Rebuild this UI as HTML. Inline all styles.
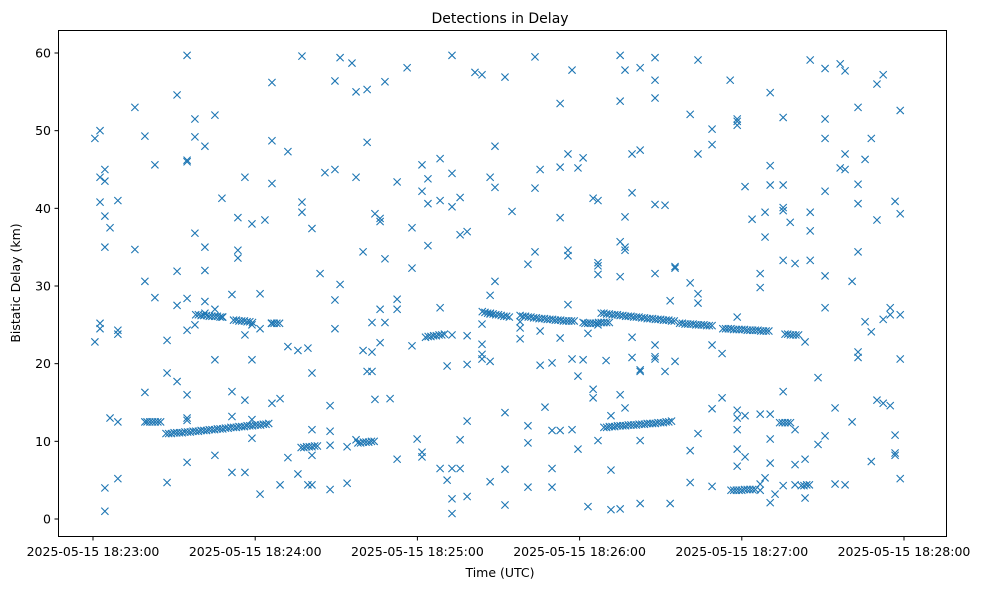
<!DOCTYPE html>
<html><head><meta charset="utf-8"><style>
body{margin:0;background:#fff}
svg{display:block;font-family:"DejaVu Sans","Liberation Sans",sans-serif}
</style></head><body>
<svg id="chart" width="984" height="590" viewBox="0 0 984 590" xmlns="http://www.w3.org/2000/svg">
<rect width="984" height="590" fill="#fff"/>
<text x="500" y="23" font-size="14" text-anchor="middle">Detections in Delay</text>
<text x="500" y="577" font-size="12.5" text-anchor="middle">Time (UTC)</text>
<text x="20" y="283" font-size="12.5" text-anchor="middle" transform="rotate(-90 20 283)">Bistatic Delay (km)</text>
<g id="marks"></g>
<g id="axes"></g>
<rect x="58.5" y="30.5" width="888" height="506" fill="none" stroke="#000" stroke-width="1"/>
</svg>
<script>
const yTicks=[0,10,20,30,40,50,60];
const xTickSeconds=[0,60,120,180,240,300];
const xTickLabels=["2025-05-15 18:23:00","2025-05-15 18:24:00","2025-05-15 18:25:00","2025-05-15 18:26:00","2025-05-15 18:27:00","2025-05-15 18:28:00"];
// scattered detections: seconds after 18:23:00, delay km
const scatterTimes=[
0.7,0.7,2.6,2.6,2.6,2.6,2.6,4.4,4.4,4.4,4.4,4.4,4.4,6.3,6.3,9.2,9.2,9.2,9.2,9.2,15.5,15.5,19.2,19.2,19.2,19.2,22.9,22.9,
27.4,27.4,27.4,31.1,31.1,31.1,31.1,34.8,34.8,34.8,34.8,34.8,34.8,34.8,34.8,34.8,37.7,37.7,37.7,37.7,41.4,41.4,41.4,41.4,41.4,
45.1,45.1,45.1,45.1,47.7,47.7,51.4,51.4,51.4,51.4,53.6,53.6,53.6,56.2,56.2,56.2,56.2,58.8,58.8,58.8,58.8,58.8,61.8,61.8,61.8,63.6,
66.2,66.2,66.2,66.2,66.2,69.2,69.2,72.1,72.1,72.1,75.8,75.8,77.3,77.3,77.3,79.5,79.5,81,81,81,81,81,84,85.8,87.7,87.7,87.7,87.7,
89.5,89.5,89.5,89.5,91.4,91.4,94,94,95.8,97.3,97.3,97.3,99.9,99.9,101.4,101.4,101.4,103.2,103.2,103.2,104.3,104.3,106.2,106.2,106.2,106.2,
108,108,108,109.9,112.5,112.5,112.5,112.5,116.2,118,118,118,119.9,121.7,121.7,121.7,121.7,123.9,123.9,123.9,128.4,128.4,128.4,128.4,
131,131,132.8,132.8,132.8,132.8,132.8,132.8,132.8,135.8,135.8,135.8,135.8,138.4,138.4,138.4,138.4,138.4,141.3,143.9,143.9,143.9,143.9,143.9,
146.9,146.9,146.9,146.9,146.9,148.7,148.7,148.7,152.4,152.4,152.4,152.4,155,158,158,158,160.9,160.9,160.9,160.9,163.5,163.5,163.5,
165.4,165.4,165.4,167.2,169.8,169.8,169.8,169.8,172.8,172.8,172.8,172.8,172.8,175.7,175.7,175.7,175.7,177.2,177.2,177.2,179.4,179.4,179.4,
181.3,181.3,181.3,183.1,183.1,185,185,185,186.8,186.8,186.8,186.8,186.8,186.8,189.8,191.6,191.6,191.6,195,195,195,195,195,195,
196.8,196.8,196.8,196.8,196.8,199.4,199.4,199.4,199.4,202.4,202.4,202.4,202.4,202.4,202.4,207.9,207.9,207.9,207.9,207.9,207.9,207.9,207.9,
211.6,211.6,213.5,213.5,215.3,215.3,215.3,220.9,220.9,220.9,220.9,223.8,223.8,223.8,223.8,223.8,229,229,229,229,229,232.7,232.7,235.7,
238.3,238.3,238.3,238.3,238.3,238.3,238.3,238.3,238.3,241.2,241.2,241.2,243.8,246.8,246.8,246.8,246.8,246.8,248.6,248.6,248.6,
250.5,250.5,250.5,250.5,250.5,250.5,250.5,252.3,255.3,255.3,255.3,255.3,255.3,255.3,255.3,257.9,259.7,259.7,259.7,259.7,263.4,263.4,263.4,
265.3,265.3,265.3,265.3,268.2,268.2,270.8,270.8,270.8,270.8,270.8,270.8,270.8,274.5,274.5,276.4,276.4,278.2,278.2,278.2,278.2,280.8,280.8,
283,283,283,283,283,283,285.6,285.6,287.9,287.9,287.9,290,290,290,292.3,292.3,292.3,294.9,294.9,294.9,296.7,296.7,296.7,296.7,
298.6,298.6,298.6,298.6,298.6];
const scatterDelays=[
49,22.8,25.2,24.5,50,44,40.8,35,4,1,45,43.5,39,37.5,13,41,24.3,23.8,12.5,5.2,53,34.7,49.3,30.6,16.3,12.5,45.6,28.5,
23,18.8,4.7,17.7,54.6,31.9,27.5,16,13,12.7,7.3,28.4,46,46.2,59.7,24.3,36.8,49.2,25,51.5,35,48,32,28,26.5,
20.5,8.2,52,27,41.3,26,28.9,16.4,13.2,6,38.8,34.6,33.6,44,23.7,6,15.3,38,25,20.5,12.8,10.4,29,24.5,3.2,38.5,
56.2,43.2,48.7,25.2,14.9,15.5,4.4,22.2,7.9,47.3,21.7,5.8,40.8,39.5,59.6,22,4.4,37.4,18.8,11.5,8.2,4.4,31.6,44.6,11.3,9.5,14.6,3.8,
56.4,45,28.2,24.5,30.2,59.4,9.3,4.6,58.7,55,44,10.2,34.4,21.7,55.3,48.5,19,21.5,25.3,19,39.3,15.4,38.3,38.7,22.7,27,
56.3,33.5,25.3,15.5,7.7,43.4,28.3,27,58.1,37.5,32.3,22.3,10.3,45.6,42.2,8.6,8,40.6,35.2,43.8,6.5,46.4,41,27.2,
5,19.7,40.2,44.5,59.7,23.7,2.6,0.7,6.5,41.4,36.6,10.2,6.5,37,12.6,2.9,19.9,23.6,57.5,57.2,22.5,21.2,20.6,25.1,
44,26.4,28.8,20.3,4.8,48,42.7,30.6,56.9,13.7,6.4,1.8,39.6,24.6,25.4,23.2,32.8,12,9.8,4.1,42.6,34.4,59.5,
45,24.2,19.8,14.4,4.1,11.4,6.5,20.1,53.5,45.3,38.8,23.3,11.4,47,34.6,33.9,27.6,57.8,20.6,11.5,45.2,18.4,9,
46.5,25.3,20.5,23.9,1.6,41.3,15.6,16.7,41,31.5,25,32.6,33,10.1,20.4,6.3,1.2,13.3,35.7,31.2,1.3,59.7,53.8,16,
38.9,34.6,35,14.3,57.8,47,42,23.4,20.8,58.1,47.5,19,19.2,2,10.1,59.4,56.5,54.2,40.5,31.6,22.4,20.9,20.6,
40.4,19,2,28.1,32.5,32.3,20.3,30.4,8.8,4.7,52.1,47,59.1,29,27.8,11,50.2,48.2,22.4,14.2,4.2,21.3,15.6,56.5,
50.7,51.5,51.2,26,14,13,11.5,6.8,9,42.8,13.3,8,38.6,13.5,4.5,31.6,29.8,3.7,39.5,36.3,5.3,
54.9,45.5,43,10.3,7.2,2.1,13.5,3.2,51.7,43,40.1,39.7,33.3,16.4,4.3,38.2,32.9,7,4.4,11.5,2.7,7.7,22.8,
59.1,39.5,37.1,33.3,9.6,18.2,49,51.5,58,42.2,31.3,27.2,10.7,14.3,4.5,58.6,45.2,57.7,47,45,4.4,12.5,30.6,
53,43.1,40.6,34.4,21.5,20.8,25.4,46.3,49,24.1,7.4,56,38.5,15.3,57.2,25.7,14.9,27.2,26.3,14.6,40.9,10.8,8.5,8.2,
39.3,26.3,20.6,5.2,52.6];
// dense tracked detections
const trackTimes=[
20,21,22,23,24,25,27,28,29,30,31,32,33,34,35,36,37,38,39,40,41,42,43,44,45,46,47,48,49,50,51,52,53,54,55,56,57,58,59,60,61,62,63,64,65,
38,39,40,41,42,43,44,45,46,47,48,52,53,54,55,56,57,58,59,66,67,68,69,
77,78,79,80,81,82,83,98,99,100,101,102,103,104,
123,124,125,126,127,128,129,130,
144,145,146,147,148,149,150,151,152,153,154,158,159,160,161,162,163,164,165,166,167,168,169,170,171,172,173,174,175,176,177,178,
182,183,184,185,186,187,188,189,190,191,
188,189,190,191,192,193,194,195,196,197,198,199,200,201,202,203,204,205,206,207,208,209,210,211,212,213,214,215,
217,218,219,220,221,222,223,224,225,226,227,228,229,233,234,235,236,237,238,239,240,241,242,243,244,245,246,247,248,249,250,
256,257,258,259,260,261,
189,190,191,192,193,194,195,196,197,198,199,200,201,202,203,204,205,206,207,208,209,210,211,212,213,214,
236,237,238,239,240,241,242,243,244,245,262,263,264,265,254,255,256,257,258];
const trackDelays=[
12.5,12.5,12.5,12.5,12.5,12.5,11,11,11,11.1,11.1,11.1,11.1,11.2,11.2,11.2,11.3,11.3,11.3,11.4,11.4,11.4,11.5,11.5,11.5,11.6,11.6,11.6,11.7,11.7,11.8,11.8,11.8,11.9,11.9,11.9,12,12,12,12.1,12.1,12.1,12.2,12.2,12.3,
26.3,26.3,26.2,26.2,26.2,26.1,26.1,26.1,26.1,26,26,25.6,25.6,25.5,25.5,25.5,25.4,25.4,25.3,25.2,25.2,25.2,25.2,
9.2,9.2,9.3,9.3,9.3,9.4,9.4,9.8,9.8,9.9,9.9,9.9,10,10,
23.4,23.5,23.5,23.6,23.6,23.7,23.7,23.8,
26.7,26.6,26.5,26.5,26.4,26.3,26.3,26.2,26.1,26.1,26,26.2,26.1,26.1,26,26,25.9,25.9,25.8,25.8,25.8,25.7,25.7,25.7,25.6,25.6,25.6,25.5,25.5,25.5,25.5,25.5,
25.2,25.2,25.2,25.2,25.2,25.3,25.3,25.3,25.3,25.3,
26.5,26.5,26.4,26.4,26.3,26.3,26.3,26.2,26.2,26.1,26.1,26.1,26,26,26,25.9,25.9,25.8,25.8,25.8,25.7,25.7,25.7,25.6,25.6,25.6,25.5,25.5,
25.2,25.2,25.1,25.1,25.1,25.1,25,25,25,25,24.9,24.9,24.9,24.5,24.5,24.5,24.5,24.4,24.4,24.4,24.4,24.4,24.3,24.3,24.3,24.3,24.3,24.2,24.2,24.2,24.2,
23.8,23.8,23.7,23.7,23.7,23.7,
11.8,11.8,11.9,11.9,11.9,12,12,12,12,12.1,12.1,12.1,12.1,12.2,12.2,12.2,12.3,12.3,12.3,12.3,12.4,12.4,12.4,12.5,12.5,12.6,
3.7,3.7,3.7,3.7,3.7,3.8,3.8,3.8,3.8,3.8,4.3,4.3,4.4,4.4,12.4,12.4,12.4,12.4,12.4];

const X0=93, PXS=162.2/60, Y0=519, PYK=(519-53)/60;
function xs(t){return X0+t*PXS;}
function ys(v){return Y0-v*PYK;}
const NS="http://www.w3.org/2000/svg";
const axes=document.getElementById('axes');
yTicks.forEach(v=>{
  const y=ys(v);
  const l=document.createElementNS(NS,'line');
  
  
  l.setAttribute('x1',54.5);l.setAttribute('x2',58.5);l.setAttribute('y1',y);l.setAttribute('y2',y);l.setAttribute('stroke','#000');
  axes.appendChild(l);
  const t=document.createElementNS(NS,'text');
  
  
  t.setAttribute('x',51);t.setAttribute('y',y+4.5);t.setAttribute('text-anchor','end');t.setAttribute('font-size','12.5');
  t.textContent=v;axes.appendChild(t);
});
xTickSeconds.forEach((s,i)=>{
  const x=xs(s);
  const l=document.createElementNS(NS,'line');
  
  
  l.setAttribute('x1',x);l.setAttribute('x2',x);l.setAttribute('y1',536.5);l.setAttribute('y2',540.5);l.setAttribute('stroke','#000');
  axes.appendChild(l);
  const t=document.createElementNS(NS,'text');
  
  
  t.setAttribute('x',x);t.setAttribute('y',556);t.setAttribute('text-anchor','middle');t.setAttribute('font-size','12.5');
  t.textContent=xTickLabels[i];axes.appendChild(t);
});
const marks=document.getElementById('marks');
function drawX(t,v){
  const x=xs(t),y=ys(v),r=3.6;
  const p=document.createElementNS(NS,'path');
  
  
  p.setAttribute('d',`M${x-r},${y-r}L${x+r},${y+r}M${x-r},${y+r}L${x+r},${y-r}`);
  p.setAttribute('stroke','#1f77b4');p.setAttribute('stroke-width','1.1');p.setAttribute('fill','none');
  marks.appendChild(p);
}
scatterTimes.forEach((t,i)=>drawX(t,scatterDelays[i]));
trackTimes.forEach((t,i)=>drawX(t,trackDelays[i]));
</script>
</body></html>
